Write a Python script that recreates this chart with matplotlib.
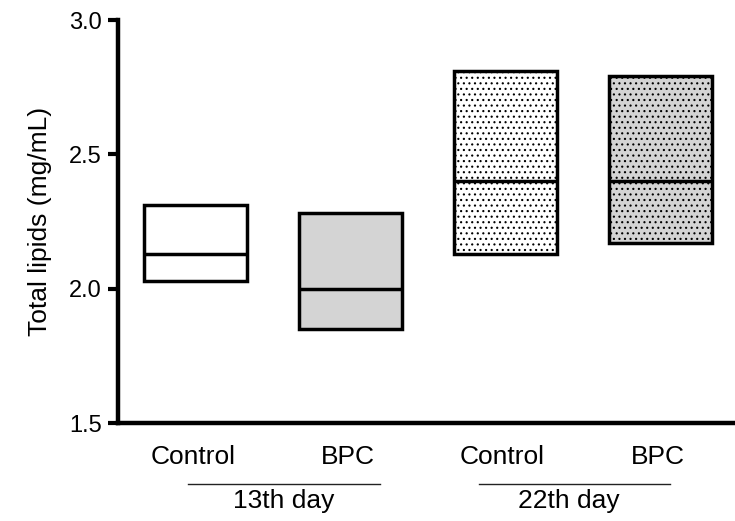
import numpy as np
import matplotlib.pyplot as plt

plt.rcParams['font.family'] = ['Liberation Sans', 'DejaVu Sans']
plt.rcParams['hatch.linewidth'] = 0.8

groups = ['Control', 'BPC', 'Control', 'BPC']
days = ['13th day', '22th day']
lows = [2.03, 1.85, 2.13, 2.17]
highs = [2.31, 2.28, 2.81, 2.79]
medians = [2.13, 2.00, 2.40, 2.40]
fills = ['white', '#d4d4d4', 'white', '#d4d4d4']
hatches = [None, None, '...', '...']

x = np.arange(len(groups))
w = 0.665

fig = plt.figure(figsize=(7.35, 5.21), dpi=100)
ax = fig.add_axes([0.161, 0.188, 0.839, 0.7735])

for i in range(len(x)):
    ax.bar(x[i], highs[i] - lows[i], bottom=lows[i], width=w,
           facecolor=fills[i], edgecolor='black', linewidth=2.5,
           hatch=hatches[i], zorder=2)
ax.hlines(medians, x - w / 2, x + w / 2, colors='black', linewidth=2.5, zorder=3)

ax.set_ylim(1.5, 3.0)
ax.set_xlim(-0.5, 3.48)
ax.set_yticks([1.5, 2.0, 2.5, 3.0])
ax.set_yticklabels(['1.5', '2.0', '2.5', '3.0'], fontsize=17)
ax.set_xticks(x - 0.02)
ax.set_xticklabels(groups, fontsize=19)
ax.tick_params(axis='x', length=0, pad=16)
ax.tick_params(axis='y', length=7, width=3, pad=5)
ax.set_ylabel('Total lipids (mg/mL)', fontsize=19, labelpad=12)

for s in ['top', 'right']:
    ax.spines[s].set_visible(False)
for s in ['left', 'bottom']:
    ax.spines[s].set_linewidth(3.2)

# group labels under the ticks
trans = ax.get_xaxis_transform()
line_x = [(-0.05, 1.19), (1.83, 3.06)]
text_x = [0.565, 2.41]
for (a, b), tx, d in zip(line_x, text_x, days):
    ax.plot([a, b], [-0.152, -0.152], color='#222222', lw=1.0,
            transform=trans, clip_on=False)
    ax.text(tx, -0.193, d, transform=trans, ha='center', va='center',
            fontsize=19)

fig.savefig('out.png', dpi=100)
